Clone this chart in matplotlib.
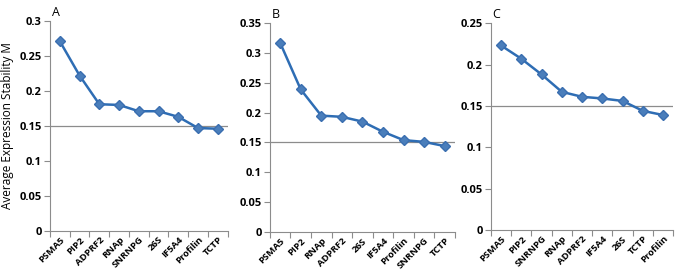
import matplotlib.pyplot as plt
import numpy as np

genes_a = ["PSMA5", "PIP2", "ADPRF2", "RNAp", "SNRNPG", "26S", "IF5A4", "Profilin", "TCTP"]
m_a = [0.271, 0.222, 0.181, 0.180, 0.171, 0.171, 0.163, 0.147, 0.146]

genes_b = ["PSMA5", "PIP2", "RNAp", "ADPRF2", "26S", "IF5A4", "Profilin", "SNRNPG", "TCTP"]
m_b = [0.317, 0.239, 0.195, 0.193, 0.185, 0.168, 0.154, 0.151, 0.144]

genes_c = ["PSMA5", "PIP2", "SNRNPG", "RNAp", "ADPRF2", "IF5A4", "26S", "TCTP", "Profilin"]
m_c = [0.223, 0.207, 0.188, 0.167, 0.161, 0.159, 0.156, 0.144, 0.139]

cutoff = 0.15

plt.rcParams["font.family"] = ["Open Sans", "DejaVu Sans"]

fig = plt.figure(figsize=(6.78, 2.72), dpi=100)

panels = [
    ("A", genes_a, m_a, 0.30, [0.0737, 0.151, 0.262, 0.772]),
    ("B", genes_b, m_b, 0.35, [0.398, 0.147, 0.273, 0.768]),
    ("C", genes_c, m_c, 0.25, [0.724, 0.154, 0.269, 0.761]),
]

for letter, genes, vals, ymax, rect in panels:
    ax = fig.add_axes(rect)
    x = np.arange(len(genes))
    ax.axhline(cutoff, color="#8c8c8c", lw=0.9, zorder=1)
    ax.plot(x, vals, color="#2e6db4", lw=1.8, marker="D", ms=5.5,
            markerfacecolor="#4a7ebb", markeredgecolor="#3a6eb0", zorder=3)
    ax.set_xlim(-0.5, len(genes) - 0.5)
    ax.set_ylim(0, ymax)
    yt = np.arange(0, ymax + 0.001, 0.05).round(2)
    ax.set_yticks(yt)
    ax.set_yticklabels([f"{v:g}" for v in yt], fontsize=8, fontweight="bold")
    ax.set_xticks(np.arange(-0.5, len(genes), 1.0))
    ax.set_xticklabels([])
    ax.set_xticks(x, minor=True)
    ax.set_xticklabels(genes, minor=True, rotation=45, ha="right",
                       rotation_mode="anchor", fontsize=6.8, fontweight="bold")
    ax.tick_params(axis="x", which="minor", length=0, pad=3)
    ax.tick_params(axis="x", which="major", length=4, color="#8c8c8c", direction="out")
    ax.tick_params(axis="y", length=4, color="#8c8c8c", direction="out", pad=2)
    for side in ["top", "right"]:
        ax.spines[side].set_visible(False)
    for side in ["left", "bottom"]:
        ax.spines[side].set_color("#8c8c8c")
        ax.spines[side].set_linewidth(0.8)
    ax.text(0.01, 1.01, letter, transform=ax.transAxes, fontsize=9, va="bottom", ha="left")
    if letter == "A":
        ax.set_ylabel("Average Expression Stability M", fontsize=8.5, labelpad=4)

fig.savefig("out.png", dpi=100)
